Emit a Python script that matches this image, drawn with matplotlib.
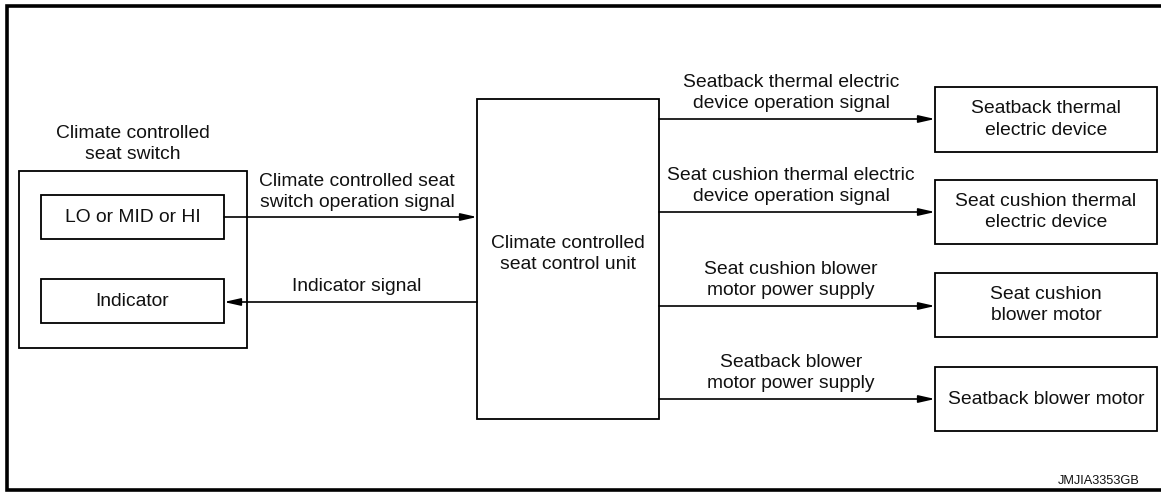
import matplotlib.pyplot as plt
from matplotlib.patches import Rectangle

plt.rcParams['font.family'] = ['Liberation Sans', 'DejaVu Sans']

W, H = 1161, 494

# blocks: label, (x0, y0, x1, y1) in pixel coords of the drawing
switch_title = "Climate controlled\nseat switch"
switch_box = (19, 171, 247, 348)
switch_parts = ["LO or MID or HI", "Indicator"]
switch_part_boxes = [(41, 195, 224, 239), (41, 279, 224, 323)]

ecu_label = "Climate controlled\nseat control unit"
ecu_box = (477, 99, 659, 419)

outputs = ["Seatback thermal\nelectric device",
           "Seat cushion thermal\nelectric device",
           "Seat cushion\nblower motor",
           "Seatback blower motor"]
output_boxes = [(935, 87, 1157, 152), (935, 180, 1157, 244),
                (935, 273, 1157, 337), (935, 367, 1157, 431)]
output_signals = ["Seatback thermal electric\ndevice operation signal",
                  "Seat cushion thermal electric\ndevice operation signal",
                  "Seat cushion blower\nmotor power supply",
                  "Seatback blower\nmotor power supply"]
output_arrow_y = [119, 212, 306, 399]

input_signals = ["Climate controlled seat\nswitch operation signal", "Indicator signal"]
input_arrow_y = [217, 302]

fig = plt.figure(figsize=(W / 100, H / 100), dpi=100)
ax = fig.add_axes([0, 0, 1, 1])
ax.set_xlim(0, W)
ax.set_ylim(H, 0)
ax.axis('off')

fs = 13.9


def box(b, lw=1.3):
    x0, y0, x1, y1 = b
    ax.add_patch(Rectangle((x0, y0), x1 - x0, y1 - y0, fill=False,
                           edgecolor='black', lw=lw))


def arrow(x0, x1, y):
    ax.annotate("", xy=(x1, y), xytext=(x0, y),
                arrowprops=dict(arrowstyle='-|>,head_length=0.75,head_width=0.17',
                                color='black', lw=1.2, shrinkA=0, shrinkB=0,
                                mutation_scale=13))


def label(x, y, s):
    ax.text(x, y, s, ha='center', va='center', fontsize=fs,
            linespacing=1.36, color='#111111')


# outer frame (right side cut off in the source)
ax.plot([1170, 7, 7, 1170], [6, 6, 490, 490], color='black', lw=2.6,
        solid_joinstyle='miter')

# switch
box(switch_box)
label(133, 144, switch_title)
for s, b in zip(switch_parts, switch_part_boxes):
    box(b)
    label((b[0] + b[2]) / 2, (b[1] + b[3]) / 2, s)

# control unit
box(ecu_box)
label(568, 254, ecu_label)

# switch -> unit, unit -> indicator
arrow(224, ecu_box[0], input_arrow_y[0])
label(357, 192, input_signals[0])
arrow(ecu_box[0], 224, input_arrow_y[1])
label(357, 286, input_signals[1])

# unit -> outputs
for s, sig, b, y in zip(outputs, output_signals, output_boxes, output_arrow_y):
    box(b)
    label((b[0] + b[2]) / 2, (b[1] + b[3]) / 2, s)
    arrow(ecu_box[2], b[0], y)
    label(791, y - 26, sig)

ax.text(1140, 481, "JMJIA3353GB", ha='right', va='center', fontsize=9.2,
        color='#111111')

fig.savefig("out.png", dpi=100)
